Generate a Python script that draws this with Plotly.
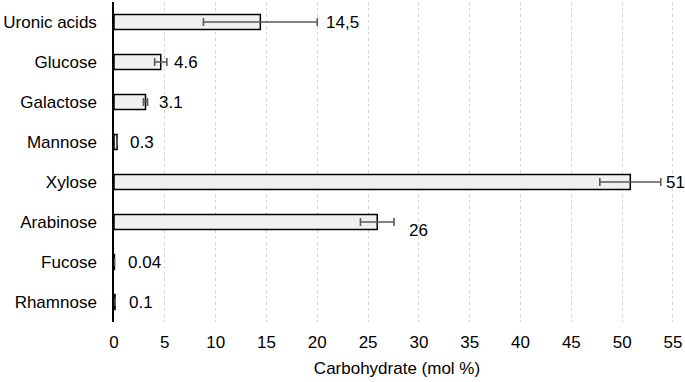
import plotly.graph_objects as go

categories = ["Uronic acids", "Glucose", "Galactose", "Mannose", "Xylose", "Arabinose", "Fucose", "Rhamnose"]
values = [14.4, 4.6, 3.1, 0.3, 50.8, 25.9, 0.04, 0.1]
errors = [5.6, 0.6, 0.2, 0.0, 3.0, 1.65, 0.0, 0.0]
labels = ["14,5", "4.6", "3.1", "0.3", "51", "26", "0.04", "0.1"]
xticks = [0, 5, 10, 15, 20, 25, 30, 35, 40, 45, 50, 55]

FONT = "Liberation Sans, Arial, sans-serif"
FS = 17

# label placement offsets (pixels) to mimic the reference layout
label_shift = {"Uronic acids": (7, 0), "Glucose": (5, 0), "Galactose": (9, 0), "Mannose": (11, 0),
               "Xylose": (3, 0), "Arabinose": (13, -8), "Fucose": (12, 0), "Rhamnose": (12, 0)}

fig = go.Figure()
fig.add_trace(go.Bar(
    y=categories, x=values, orientation="h",
    marker=dict(color="#f0f0f0", line=dict(color="black", width=1.5)),
    width=0.38,
    error_x=dict(type="data", array=errors, visible=True, color="#5a5a5a", thickness=1.6, width=4),
    showlegend=False, hoverinfo="skip",
))

for c, v, e, t in zip(categories, values, errors, labels):
    xs, ys = label_shift[c]
    fig.add_annotation(x=v + e, y=c, text=t, showarrow=False, xanchor="left",
                       xshift=xs, yshift=ys, font=dict(family=FONT, size=FS, color="black"))

fig.update_layout(
    width=685, height=382,
    margin=dict(l=114, r=5, t=2, b=60),
    plot_bgcolor="white", paper_bgcolor="white",
    font=dict(family=FONT, size=FS, color="black"),
)
fig.update_xaxes(range=[0, 55.69], tickvals=xticks, showgrid=True, gridcolor="#d4d4d4",
                 griddash="dot", gridwidth=1, zeroline=False, showline=False, ticks="",
                 automargin=False, ticklabelstandoff=8,
                 title=dict(text="Carbohydrate (mol %)", font=dict(size=FS), standoff=11),
                 tickfont=dict(size=FS))
fig.update_yaxes(categoryorder="array", categoryarray=categories, range=[7.5, -0.5],
                 automargin=False,
                 showline=True, linecolor="black", linewidth=1.5, showgrid=False,
                 ticks="", ticklabelstandoff=12, tickfont=dict(size=FS))

fig.write_html("out.html", config={"displayModeBar": False},
               post_script="document.body.style.margin='0';document.body.style.overflow='hidden';")
